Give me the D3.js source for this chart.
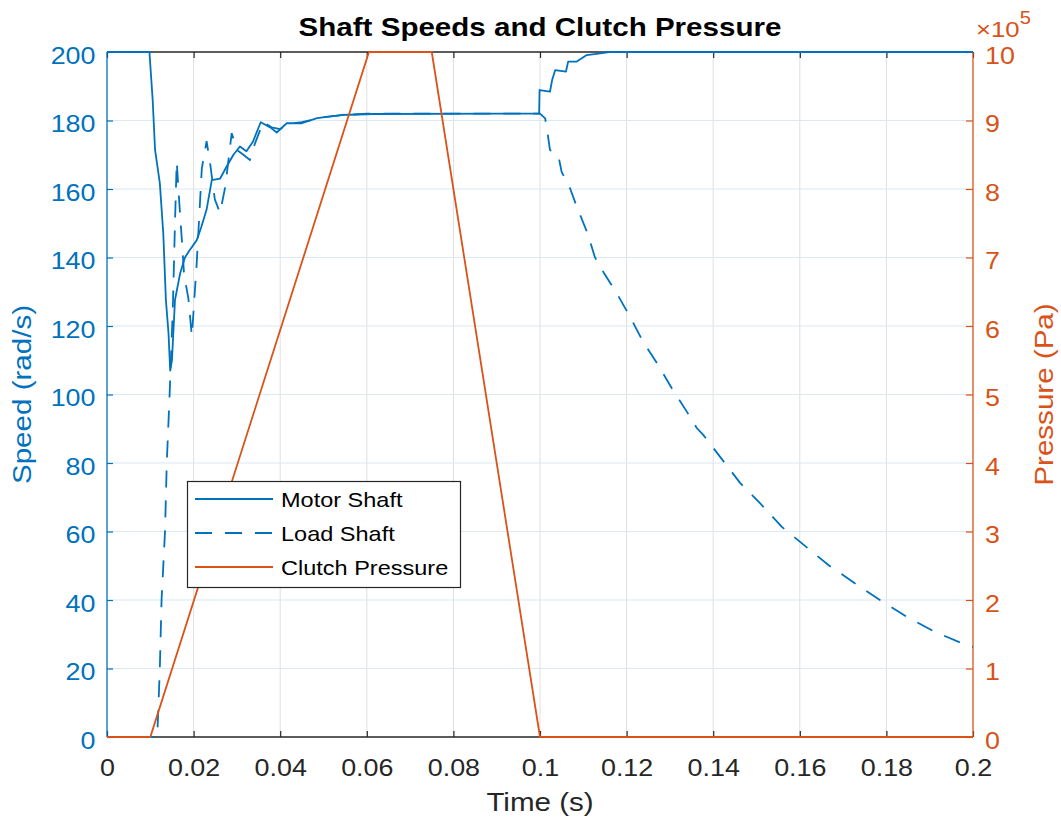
<!DOCTYPE html>
<html>
<head>
<meta charset="utf-8">
<script src="https://cdn.jsdelivr.net/npm/d3@7"></script>
<style>
  body { margin: 0; background: #ffffff; }
  svg { display: block; }
</style>
</head>
<body>
<svg id="chart" width="1061" height="825"></svg>
<script>
// ---------------- DATA ----------------
const xTicks = [0, 0.02, 0.04, 0.06, 0.08, 0.1, 0.12, 0.14, 0.16, 0.18, 0.2];
const xTickLabels = ["0", "0.02", "0.04", "0.06", "0.08", "0.1", "0.12", "0.14", "0.16", "0.18", "0.2"];
const speedTicks = [0, 20, 40, 60, 80, 100, 120, 140, 160, 180, 200];
const speedTickLabels = ["0", "20", "40", "60", "80", "100", "120", "140", "160", "180", "200"];
const pressureTicks = [0, 1e5, 2e5, 3e5, 4e5, 5e5, 6e5, 7e5, 8e5, 9e5, 1e6];
const pressureTickLabels = ["0", "1", "2", "3", "4", "5", "6", "7", "8", "9", "10"];

const pressureTime  = [0, 0.01, 0.0605, 0.075, 0.1, 0.2];
const pressureValue = [0, 0, 1e6, 1e6, 0, 0];

const motorTime = [0, 0.0098, 0.01055, 0.0111, 0.0122, 0.013, 0.0136, 0.0142, 0.0146, 0.0150,
  0.0157, 0.0169, 0.018, 0.019, 0.0207, 0.0218, 0.023, 0.0242, 0.0261, 0.0276,
  0.0292, 0.0307, 0.0322, 0.0337, 0.0355, 0.0377, 0.0392, 0.0415, 0.045, 0.0485,
  0.054, 0.0615, 0.0998, 0.0999, 0.1023, 0.1028, 0.1035, 0.106, 0.1065, 0.1085,
  0.1108, 0.1139, 0.116, 0.2];
const motorSpeed = [200, 200, 186, 171.4, 161.7, 147, 127.6, 118, 107, 110,
  127.6, 135.4, 140, 142, 145, 149, 154, 162.6, 163, 166.5,
  170, 172.4, 171, 173.8, 179.5, 178, 176.5, 179.2, 179.2, 180.7,
  181.6, 181.9, 182, 188.9, 188.4, 191.8, 194.7, 194.3, 197.2, 197.2,
  199.1, 199.6, 200, 200];

const loadTime = [0, 0.0116, 0.0122, 0.0126, 0.0134, 0.0138, 0.0144, 0.0147, 0.0152, 0.0157,
  0.0161, 0.0165, 0.0169, 0.0173, 0.0178, 0.0188, 0.0196, 0.0207, 0.0213, 0.0219,
  0.0230, 0.0238, 0.0249, 0.0261, 0.0273, 0.0288, 0.0300, 0.0315, 0.0330, 0.0342,
  0.0361, 0.0380, 0.0400, 0.0420, 0.0450, 0.0500, 0.0550, 0.0600, 0.1000, 0.1012,
  0.1018, 0.1023, 0.1042, 0.1050, 0.1070, 0.1085, 0.1110, 0.1127, 0.1148, 0.1177,
  0.1208, 0.1238, 0.1273, 0.1304, 0.1339, 0.1362, 0.1377, 0.1416, 0.1462, 0.1508,
  0.1558, 0.1612, 0.1666, 0.1727, 0.1785, 0.1847, 0.1912, 0.1985, 0.2];
const loadSpeed = [0, 0, 20, 40, 60, 80, 98, 108, 125, 150,
  168, 160, 152, 145, 135, 128, 117, 138, 152, 166,
  174, 167.6, 157, 153, 160.6, 176.3, 171.4, 170, 168.5, 173.4,
  179.6, 178, 177.5, 179, 179.5, 181, 181.6, 182, 182, 180.6,
  175.8, 171.4, 170, 165, 160, 154.8, 147, 140, 135.4, 129.6,
  122.7, 115.4, 108.6, 101.9, 95, 90.2, 88.2, 81.8, 74.2, 68.3,
  61.4, 55.8, 50.2, 44.9, 40, 35.1, 30.7, 26.8, 26.3];

const legendLabels = ["Motor Shaft", "Load Shaft", "Clutch Pressure"];

// ---------------- STYLE ----------------
const FONT = '"Liberation Sans", Arial, Helvetica, sans-serif';
const SX = 1.12;              // horizontal text stretch
const BLUE = "#0072BD", ORANGE = "#D95319", AX = "#262626";
const L = 107, R = 973, T = 52, B = 737;

const svg = d3.select("#chart");
const x  = d3.scaleLinear().domain([0, 0.2]).range([L, R]);
const yS = d3.scaleLinear().domain([0, 200]).range([B, T]);
const yP = d3.scaleLinear().domain([0, 1e6]).range([B, T]);

// grid
svg.append("g").selectAll("line").data(xTicks.slice(1, -1)).join("line")
  .attr("x1", d => x(d)).attr("x2", d => x(d)).attr("y1", T).attr("y2", B)
  .attr("stroke", "#dfdfdf").attr("stroke-width", 1);
svg.append("g").selectAll("line").data(speedTicks.slice(1, -1)).join("line")
  .attr("x1", L).attr("x2", R).attr("y1", d => yS(d)).attr("y2", d => yS(d))
  .attr("stroke", "#d9e9f5").attr("stroke-width", 1);

// axes
function styleTicks(g, color, dx, dy, anchor) {
  g.attr("font-family", FONT).attr("font-size", 24);
  g.select(".domain").remove();
  g.selectAll(".tick line").attr("stroke", color).attr("stroke-width", 1.2);
  g.selectAll(".tick text")
    .attr("x", null).attr("y", null).attr("dy", null)
    .attr("fill", color).attr("text-anchor", anchor)
    .attr("transform", `translate(${dx},${dy}) scale(${SX},1)`);
}
svg.append("g").attr("transform", `translate(0,${B})`)
  .call(d3.axisBottom(x).tickValues(xTicks).tickFormat((d, i) => xTickLabels[i]).tickSizeInner(-6).tickSizeOuter(0))
  .call(g => styleTicks(g, AX, 0, 39, "middle"));
svg.append("g").attr("transform", `translate(0,${T})`)
  .call(d3.axisTop(x).tickValues(xTicks).tickFormat("").tickSizeInner(-6).tickSizeOuter(0))
  .call(g => { g.select(".domain").remove(); g.selectAll(".tick line").attr("stroke", AX).attr("stroke-width", 1.2); });
svg.append("g").attr("transform", `translate(${L},0)`)
  .call(d3.axisLeft(yS).tickValues(speedTicks).tickFormat((d, i) => speedTickLabels[i]).tickSizeInner(-6).tickSizeOuter(0))
  .call(g => styleTicks(g, BLUE, -11.5, 11, "end"));
svg.append("g").attr("transform", `translate(${R},0)`)
  .call(d3.axisRight(yP).tickValues(pressureTicks).tickFormat((d, i) => pressureTickLabels[i]).tickSizeInner(-7).tickSizeOuter(0))
  .call(g => styleTicks(g, ORANGE, 12, 11, "start"));

// box
const box = svg.append("g").attr("stroke-width", 1.3);
box.append("line").attr("x1", L).attr("x2", R).attr("y1", T).attr("y2", T).attr("stroke", AX);
box.append("line").attr("x1", L).attr("x2", R).attr("y1", B).attr("y2", B).attr("stroke", AX);
box.append("line").attr("x1", L).attr("x2", L).attr("y1", T).attr("y2", B).attr("stroke", BLUE);
box.append("line").attr("x1", R).attr("x2", R).attr("y1", T).attr("y2", B).attr("stroke", ORANGE);

// clip
svg.append("defs").append("clipPath").attr("id", "plotclip")
  .append("rect").attr("x", L - 1).attr("y", T - 1).attr("width", R - L + 2).attr("height", B - T + 2);

const data = svg.append("g").attr("clip-path", "url(#plotclip)");
const mk = (ts, vs, ys) => d3.line().x((d, i) => x(ts[i])).y((d, i) => ys(vs[i]))(ts);

data.append("path").attr("d", mk(motorTime, motorSpeed, yS))
  .attr("fill", "none").attr("stroke", BLUE).attr("stroke-width", 1.8).attr("stroke-linejoin", "round");
data.append("path").attr("d", mk(loadTime, loadSpeed, yS))
  .attr("fill", "none").attr("stroke", BLUE).attr("stroke-width", 1.8).attr("stroke-dasharray", "17,13");
data.append("path").attr("d", mk(pressureTime, pressureValue, yP))
  .attr("fill", "none").attr("stroke", ORANGE).attr("stroke-width", 1.8);

// texts
function txt(str, tx, ty, opts) {
  const t = svg.append("text")
    .attr("transform", `translate(${tx},${ty})${opts.rot ? " rotate(" + opts.rot + ")" : ""} scale(${SX},1)`)
    .attr("font-family", FONT).attr("font-size", opts.size)
    .attr("font-weight", opts.bold ? "bold" : "normal")
    .attr("fill", opts.color).attr("text-anchor", opts.anchor || "middle")
    .text(str);
  return t;
}
txt("Shaft Speeds and Clutch Pressure", (L + R) / 2, 36, { size: 26.4, bold: true, color: "#000" });
txt("Time (s)", (L + R) / 2, 811, { size: 26.4, color: AX });
txt("Speed (rad/s)", 31, (T + B) / 2, { size: 26.4, color: BLUE, rot: -90 });
txt("Pressure (Pa)", 1053, (T + B) / 2, { size: 26.4, color: ORANGE, rot: -90 });

const ex = svg.append("text").attr("transform", `translate(976,37) scale(${SX},1)`)
  .attr("font-family", FONT).attr("fill", ORANGE).attr("text-anchor", "start");
ex.append("tspan").attr("font-size", 23).text("×10");
ex.append("tspan").attr("font-size", 18).attr("dy", -13).text("5");

// legend
const lg = svg.append("g");
lg.append("rect").attr("x", 187.5).attr("y", 481.5).attr("width", 273).attr("height", 106)
  .attr("fill", "#fff").attr("stroke", AX).attr("stroke-width", 1.2);
const rows = [
  { label: legendLabels[0], color: BLUE, dash: null },
  { label: legendLabels[1], color: BLUE, dash: "17,13" },
  { label: legendLabels[2], color: ORANGE, dash: null }
];
const rowY = [499, 533, 567];
rows.forEach((r, i) => {
  lg.append("line").attr("x1", 195).attr("x2", 273).attr("y1", rowY[i]).attr("y2", rowY[i])
    .attr("stroke", r.color).attr("stroke-width", 1.8).attr("stroke-dasharray", r.dash);
  lg.append("text").attr("transform", `translate(281,${rowY[i] + 7.5}) scale(${SX},1)`)
    .attr("font-family", FONT).attr("font-size", 21).attr("fill", "#000").text(r.label);
});
</script>
</body>
</html>
